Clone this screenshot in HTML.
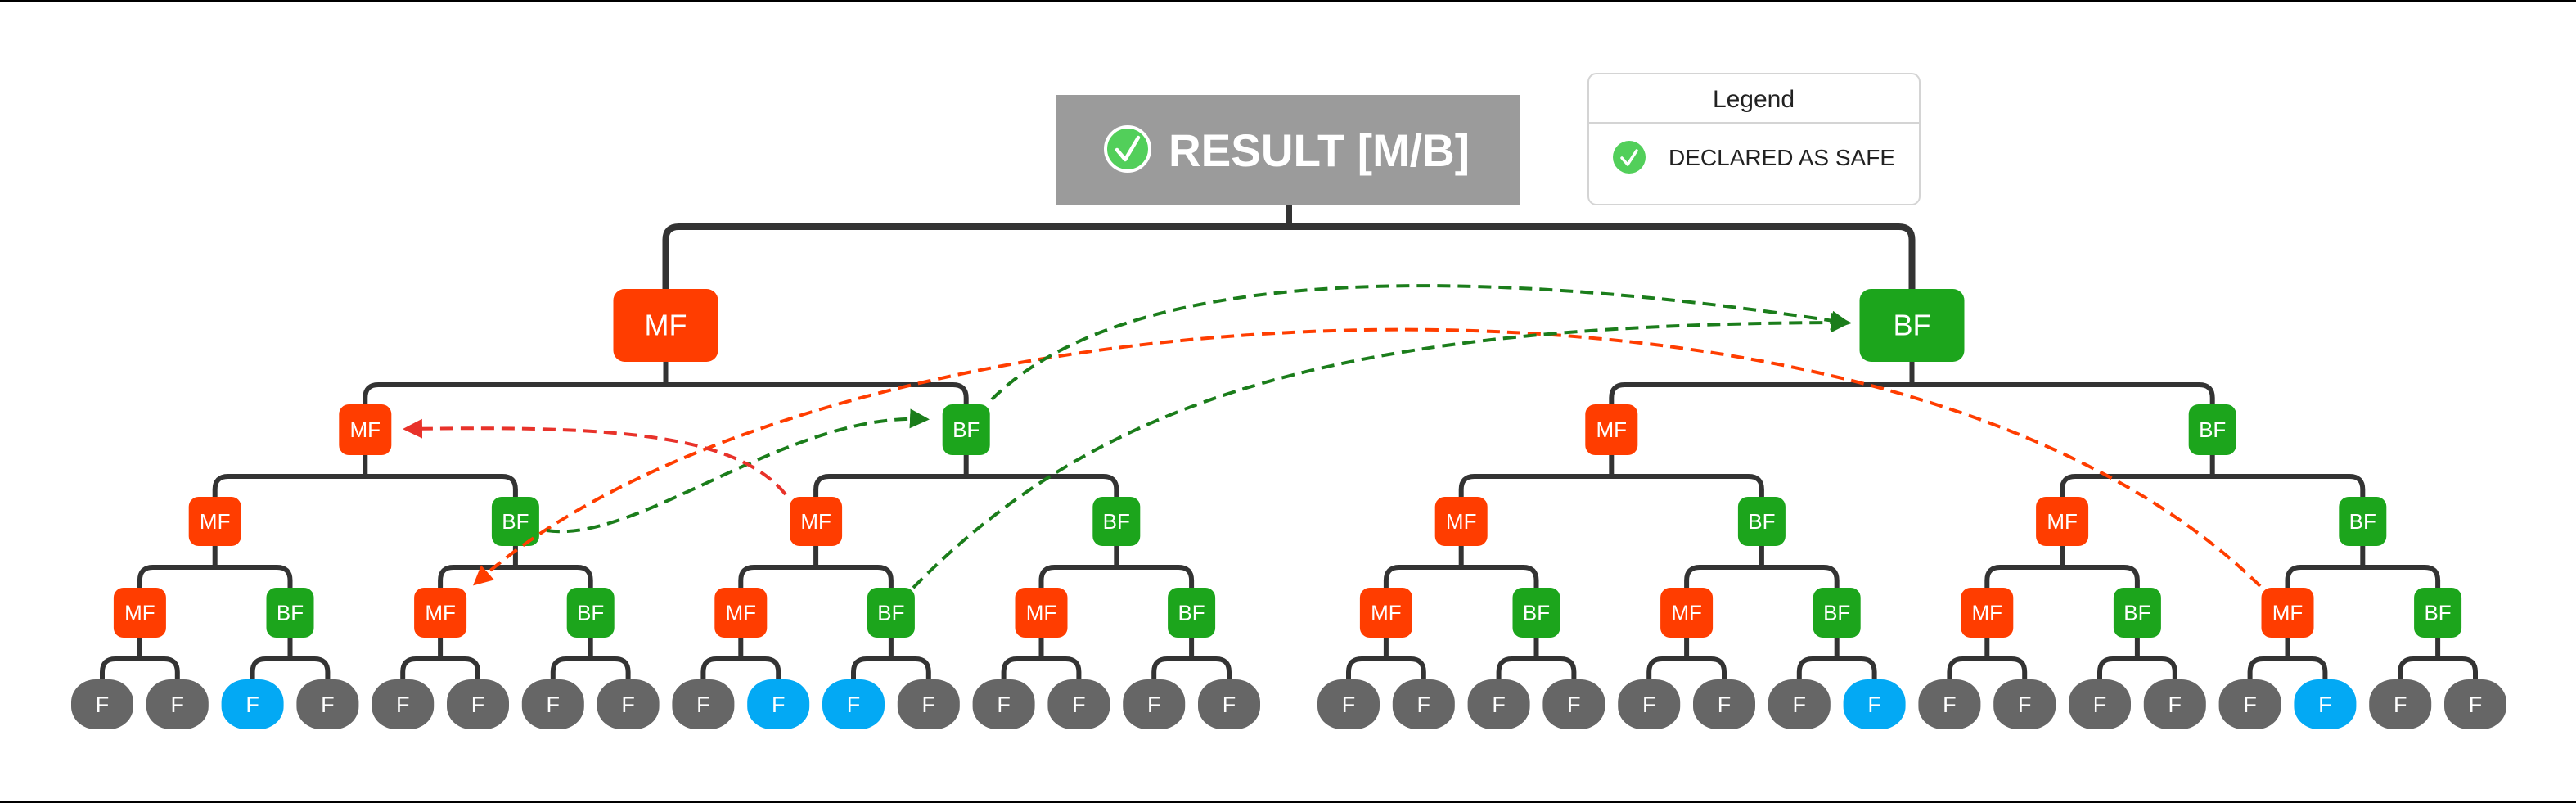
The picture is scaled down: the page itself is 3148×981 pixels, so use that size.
<!DOCTYPE html>
<html><head><meta charset="utf-8">
<style>
html,body{margin:0;padding:0;background:#fff;}
#wrap{position:relative;width:3148px;height:981px;overflow:hidden;border-top:2px solid #000;border-bottom:2px solid #000;box-sizing:border-box;}
svg{position:absolute;left:0;top:-2px;}
text{font-family:"Liberation Sans",sans-serif;}
</style></head>
<body>
<div id="wrap">
<svg id="svg" width="3148" height="981" viewBox="0 0 3148 981" xmlns="http://www.w3.org/2000/svg">
<defs>
<marker id="arG" markerWidth="6" markerHeight="6" refX="4" refY="3" orient="auto" markerUnits="strokeWidth"><path d="M0,0 L6,3 L0,6 Z" fill="#1b7d1b"/></marker>
<marker id="arR" markerWidth="6" markerHeight="6" refX="4" refY="3" orient="auto" markerUnits="strokeWidth"><path d="M0,0 L6,3 L0,6 Z" fill="#ff3d00"/></marker>
<marker id="arR2" markerWidth="6" markerHeight="6" refX="4" refY="3" orient="auto" markerUnits="strokeWidth"><path d="M0,0 L6,3 L0,6 Z" fill="#e8322a"/></marker>
</defs>
<g id="lines"></g>
<g id="nodes"></g>
<g id="arrows"></g>
<g>
<rect x="1291" y="116" width="566" height="135" fill="#9b9b9b"/>
<circle cx="1378" cy="182" r="27" fill="#52cf5a" stroke="#fff" stroke-width="4"/>
<path d="M1365,183 L1375,195 L1391,168" fill="none" stroke="#fff" stroke-width="4.5" stroke-linecap="round" stroke-linejoin="round"/>
<text x="1428" y="203" font-size="56" font-weight="bold" fill="#fff" textLength="368" lengthAdjust="spacingAndGlyphs">RESULT [M/B]</text>
</g>
<g>
<rect x="1941" y="90" width="405" height="160" rx="10" fill="#fff" stroke="#d4d4d4" stroke-width="2"/>
<line x1="1941" y1="150" x2="2346" y2="150" stroke="#d4d4d4" stroke-width="2"/>
<text x="2143" y="131" font-size="30" fill="#222" text-anchor="middle">Legend</text>
<circle cx="1991" cy="192" r="20" fill="#52cf5a"/>
<path d="M1982,193 L1989,201 L2000,184" fill="none" stroke="#fff" stroke-width="3.5" stroke-linecap="round" stroke-linejoin="round"/>
<text x="2039" y="202" font-size="28" fill="#222" textLength="277" lengthAdjust="spacingAndGlyphs">DECLARED AS SAFE</text>
</g>
</svg>
</div>
<script>
// Tree data
const levelTypes = [
  ['M','B'],
  ['M','B','M','B'],
  ['M','B','M','B','M','B','M','B'],
  ['M','B','M','B','M','B','M','B','M','B','M','B','M','B','M','B']
];
const blueLeaves = [2, 9, 10, 23, 29];
const leafCount = 32;
const levelY = [[353,442],[494,556],[607,667],[718,779]];
const barY = [277, 470, 582, 693, 805];
const leafTop = 830, leafBot = 891;
const arrowPaths = [
  {d:'M2762,716 C2300,260 1000,340 584,710', c:'#ff3d00', m:'arR', n:'arrow-mf-right-to-mf-left'},
  {d:'M1212,488 C1400,300 1900,340 2254,394', c:'#1b7d1b', m:'arG', n:'arrow-bf-l2-to-bf-l1'},
  {d:'M1116,718 C1350,480 1650,395 2254,394', c:'#1b7d1b', m:'arG', n:'arrow-bf-l4-to-bf-l1'},
  {d:'M668,648 C780,665 960,505 1128,512', c:'#1b7d1b', m:'arG', n:'arrow-bf-l4-to-bf-l2'},
  {d:'M960,604 C900,530 750,520 500,524', c:'#e8322a', m:'arR2', n:'arrow-mf-l3-to-mf-l2'}
];

const NS='http://www.w3.org/2000/svg';
function mk(tag, attrs, parent){const e=document.createElementNS(NS,tag);for(const k in attrs)e.setAttribute(k,attrs[k]);parent.appendChild(e);return e;}
function leafX(i){return i<16 ? 125+i*91.8 : 1648+(i-16)*91.8;}
const linesG=document.getElementById('lines'), nodesG=document.getElementById('nodes'), arrowsG=document.getElementById('arrows');

// x positions per level
let xs=[]; let cur=[]; for(let i=0;i<leafCount;i++)cur.push(leafX(i));
const leafXs=cur.slice();
let levels=[];
while(cur.length>1){const nx=[];for(let i=0;i<cur.length;i+=2)nx.push((cur[i]+cur[i+1])/2);levels.unshift(nx);cur=nx;}
// levels[0]=root, levels[1]=l1,... levels[4]=l4
function connector(px, pBottom, cx1, cx2, by, cTop, w){
  const r=16;
  const p=mk('path',{d:`M${cx1},${cTop} V${by+r} Q${cx1},${by} ${cx1+r},${by} H${cx2-r} Q${cx2},${by} ${cx2},${by+r} V${cTop} M${px},${pBottom} V${by}`,fill:'none',stroke:'#333',"stroke-width":w},linesG);
  
  
}
// root connector
connector(levels[0][0],251,levels[1][0],levels[1][1],barY[0],levelY[0][0],8);
for(let L=1;L<=4;L++){
  const par=levels[L], ch = L<4 ? levels[L+1] : leafXs;
  const cTop = L<4 ? levelY[L][0] : leafTop;
  for(let i=0;i<par.length;i++) connector(par[i],levelY[L-1][1],ch[2*i],ch[2*i+1],barY[L],cTop,6);
}
// nodes
for(let L=1;L<=4;L++){
  const xsL=levels[L];
  for(let i=0;i<xsL.length;i++){
    const t=levelTypes[L-1][i];
    const big=L===1;
    const w= big?128:(t==='M'?64:58), h=levelY[L-1][1]-levelY[L-1][0];
    const g=mk('g',{},nodesG);
    
    
    mk('rect',{x:xsL[i]-w/2,y:levelY[L-1][0],width:w,height:h,rx:big?14:12,fill:t==='M'?'#ff3d00':'#1ca51c'},g);
    const tx=mk('text',{x:xsL[i],y:levelY[L-1][0]+h/2+(big?12:9),"font-size":big?36:26,fill:'#fff',"text-anchor":'middle'},g);
    tx.textContent=t==='M'?'MF':'BF';
  }
}
// leaves
for(let i=0;i<leafCount;i++){
  const g=mk('g',{},nodesG);
  
  
  mk('rect',{x:leafXs[i]-38,y:leafTop,width:76,height:leafBot-leafTop,rx:30,ry:28,fill:blueLeaves.includes(i)?'#03a9f4':'#666666'},g);
  const tx=mk('text',{x:leafXs[i],y:leafTop+40,"font-size":27,fill:'#fff',"text-anchor":'middle'},g);
  tx.textContent='F';
}
// arrows
arrowPaths.forEach(a=>{
  const p=mk('path',{d:a.d,fill:'none',stroke:a.c,"stroke-width":4,"stroke-dasharray":'16 9',"marker-end":`url(#${a.m})`},arrowsG);
  
  
});
</script>
</body></html>
